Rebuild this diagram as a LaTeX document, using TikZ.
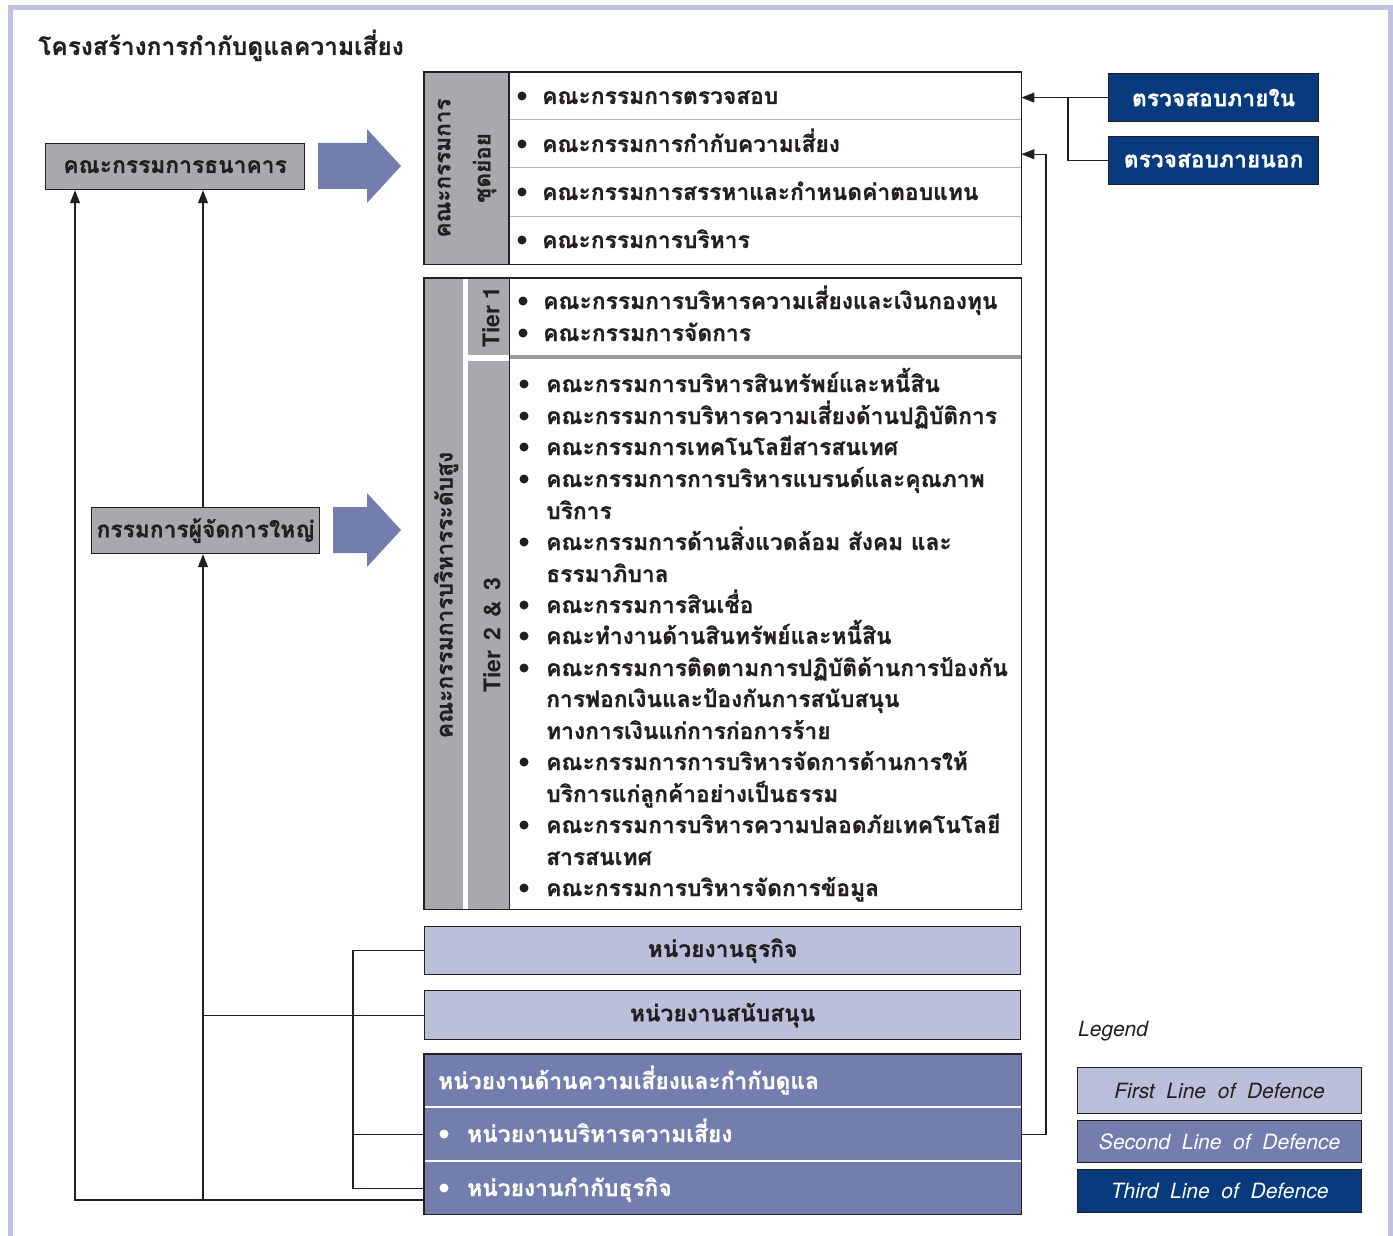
\documentclass[tikz,border=0pt]{standalone}
\usepackage{fontspec}
\usetikzlibrary{arrows.meta,calc}
\setmainfont[Script=Thai]{Loma}
\newfontfamily\thai[Script=Thai, BoldFeatures={FakeBold=0.7}]{Loma}
\newfontfamily\helv{TeX Gyre Heros}
\definecolor{gfill}{HTML}{A7A9AC}
\definecolor{lav}{HTML}{BBBFDC}
\definecolor{mblue}{HTML}{737EAF}
\definecolor{navy}{HTML}{083A7E}
\definecolor{framec}{HTML}{BEC2E0}
\definecolor{sepc}{HTML}{B5B5B5}
\definecolor{ink}{HTML}{231F20}
\newcommand\bitem[6][ink]{%
  \fill[#1] (#3,#5-8) circle (4.5pt);
  \node[txt, text=#1] (#2) at (#4,#5) {#6};}
\begin{document}
\begin{tikzpicture}[x=1pt,y=-1pt,
  font=\thai\bfseries\fontsize{22.8}{26}\selectfont,
  box/.style={draw=ink, line width=1.2pt, inner sep=0pt, anchor=north west, text=ink},
  plain/.style={draw=none, inner sep=0pt, anchor=north west},
  txt/.style={anchor=base west, inner sep=0pt, text=ink},
  arr/.style={-{Triangle[length=13pt,width=10pt]}, line width=1.1pt, draw=ink},
  ln/.style={line width=1.1pt, draw=ink},
  bigarr/.style={fill=mblue, draw=none},
  legtxt/.style={font=\helv\itshape\fontsize{21}{24}\selectfont}
]
\useasboundingbox (0,0) rectangle (1393,1236);
% frame
\draw[framec, line width=5pt] (10,1236) -- (10,8) -- (1390,8) -- (1390,1236);
% title
\node[txt, font=\thai\bfseries\fontsize{24.5}{28}\selectfont] (title) at (38,55) {โครงสร้างการกำกับดูแลความเสี่ยง};

% left boxes
\node[box, fill=gfill, minimum width=259pt, minimum height=46pt] (board) at (45,143) {คณะกรรมการธนาคาร};
\node[box, fill=gfill, minimum width=228pt, minimum height=46pt] (md) at (91,507) {กรรมการผู้จัดการใหญ่};

% big arrows
\fill[bigarr] (318,143) -- (367,143) -- (367,129) -- (401,166) -- (367,203) -- (367,189) -- (318,189) -- cycle;
\fill[bigarr] (333,507) -- (367,507) -- (367,493) -- (401,530) -- (367,567) -- (367,553) -- (333,553) -- cycle;

% sub-committee block
\node[plain, fill=gfill, minimum width=85pt, minimum height=192pt] (subcol) at (424,72) {};
\node[plain, fill=white, minimum width=512pt, minimum height=48pt] (s1) at (509,72) {};
\node[plain, fill=white, minimum width=512pt, minimum height=48pt] (s2) at (509,120) {};
\node[plain, fill=white, minimum width=512pt, minimum height=48pt] (s3) at (509,168) {};
\node[plain, fill=white, minimum width=512pt, minimum height=48pt] (s4) at (509,216) {};
\draw[sepc, line width=1pt] (s2.north west) -- (s2.north east);
\draw[sepc, line width=1pt] (s3.north west) -- (s3.north east);
\draw[sepc, line width=1pt] (s4.north west) -- (s4.north east);
\draw[ink, line width=1.2pt] (subcol.north west) rectangle (s4.south east);
\draw[ink, line width=1.2pt] (s1.north west) -- (s4.south west);
\node[rotate=90, align=center, text=ink, font=\thai\bfseries\fontsize{22.5}{40}\selectfont] (sublbl) at (467,168) {คณะกรรมการ\\ชุดย่อย};
\bitem{t1}{522}{542}{104}{คณะกรรมการตรวจสอบ}
\bitem{t2}{522}{542}{152}{คณะกรรมการกำกับความเสี่ยง}
\bitem{t3}{522}{542}{200}{คณะกรรมการสรรหาและกำหนดค่าตอบแทน}
\bitem{t4}{522}{542}{248}{คณะกรรมการบริหาร}

% executive block
\node[plain, fill=white, minimum width=597pt, minimum height=631pt] (exec) at (424,278) {};
\node[plain, fill=gfill, minimum width=39pt, minimum height=631pt] (execcol) at (424,278) {};
\node[plain, fill=gfill, minimum width=41pt, minimum height=77pt] (tier1) at (468,278) {};
\node[plain, fill=gfill, minimum width=41pt, minimum height=548pt] (tier23) at (468,361) {};
\draw[sepc!85!black, line width=4pt] (509,357) -- (1021,357);
\draw[ink, line width=1.2pt] (exec.north west) rectangle (exec.south east);
\draw[ink, line width=1.2pt] (tier1.north east) -- (tier23.south east);
\node[rotate=90, text=ink] (execlbl) at (446,595) {คณะกรรมการบริหารระดับสูง};
\node[rotate=90, text=ink, font=\helv\bfseries\fontsize{23}{26}\selectfont] (tier1lbl) at (491,317) {Tier 1};
\node[rotate=90, text=ink, font=\helv\bfseries\fontsize{23}{26}\selectfont] (tier23lbl) at (492,635) {Tier\ \,2\ \,\&\ \,3};
\bitem{e1}{523}{543}{309}{คณะกรรมการบริหารความเสี่ยงและเงินกองทุน}
\bitem{e2}{523}{543}{341}{คณะกรรมการจัดการ}
\bitem{f1}{524}{546}{392}{คณะกรรมการบริหารสินทรัพย์และหนี้สิน}
\bitem{f2}{524}{546}{424}{คณะกรรมการบริหารความเสี่ยงด้านปฏิบัติการ}
\bitem{f3}{524}{546}{455}{คณะกรรมการเทคโนโลยีสารสนเทศ}
\bitem{f4}{524}{546}{487}{คณะกรรมการการบริหารแบรนด์และคุณภาพ}
\node[txt] (f4b) at (546,519) {บริการ};
\bitem{f5}{524}{546}{550}{คณะกรรมการด้านสิ่งแวดล้อม สังคม และ}
\node[txt] (f5b) at (546,582) {ธรรมาภิบาล};
\bitem{f6}{524}{546}{613}{คณะกรรมการสินเชื่อ}
\bitem{f7}{524}{546}{644}{คณะทำงานด้านสินทรัพย์และหนี้สิน}
\bitem{f8}{524}{546}{676}{คณะกรรมการติดตามการปฏิบัติด้านการป้องกัน}
\node[txt] (f8b) at (546,707) {การฟอกเงินและป้องกันการสนับสนุน};
\node[txt] (f8c) at (546,739) {ทางการเงินแก่การก่อการร้าย};
\bitem{f9}{524}{546}{770}{คณะกรรมการการบริหารจัดการด้านการให้}
\node[txt] (f9b) at (546,802) {บริการแก่ลูกค้าอย่างเป็นธรรม};
\bitem{f10}{524}{546}{833}{คณะกรรมการบริหารความปลอดภัยเทคโนโลยี}
\node[txt] (f10b) at (546,865) {สารสนเทศ};
\bitem{f11}{524}{546}{896}{คณะกรรมการบริหารจัดการข้อมูล}

% business / support
\node[box, fill=lav, minimum width=596pt, minimum height=48pt] (bu) at (424,926) {หน่วยงานธุรกิจ};
\node[box, fill=lav, minimum width=596pt, minimum height=49pt] (su) at (424,990) {หน่วยงานสนับสนุน};

% risk & compliance block
\node[plain, fill=mblue, minimum width=597pt, minimum height=52pt] (rchead) at (424,1054) {};
\node[plain, fill=mblue, minimum width=597pt, minimum height=52pt] (rcrisk) at (424,1108) {};
\node[plain, fill=mblue, minimum width=597pt, minimum height=52pt] (rccomp) at (424,1162) {};
\draw[ink, line width=1.2pt] (rchead.north west) rectangle (rccomp.south east);
\node[txt, text=white] (rcheadt) at (438,1089) {หน่วยงานด้านความเสี่ยงและกำกับดูแล};
\bitem[white]{rc1}{444}{467}{1142}{หน่วยงานบริหารความเสี่ยง}
\bitem[white]{rc2}{444}{467}{1196}{หน่วยงานกำกับธุรกิจ}

% audit boxes
\node[box, fill=navy, text=white, minimum width=210pt, minimum height=48pt] (ia) at (1108,73) {ตรวจสอบภายใน};
\node[box, fill=navy, text=white, minimum width=210pt, minimum height=48pt] (ea) at (1108,136) {ตรวจสอบภายนอก};

% legend
\node[anchor=west, inner sep=0pt, text=ink, font=\helv\itshape\fontsize{21}{24}\selectfont] (legend) at (1078,1031) {Legend};
\node[box, fill=lav, minimum width=284pt, minimum height=46pt, legtxt] (lg1) at (1077,1067) {First\ \ Line\ \ of\ \ Defence};
\node[box, fill=mblue, text=white, minimum width=284pt, minimum height=42pt, legtxt] (lg2) at (1077,1120) {Second\ \ Line\ \ of\ \ Defence};
\node[box, fill=navy, text=white, minimum width=284pt, minimum height=43pt, legtxt] (lg3) at (1077,1169) {Third\ \ Line\ \ of\ \ Defence};

% connectors
\coordinate (lx) at (75,0);
\coordinate (mx) at (203,0);
\coordinate (bx) at (353,0);
\coordinate (bl) at (0,1200);
\coordinate (rx) at (1046,0);
\coordinate (ax) at (1068,0);
\coordinate (s2in) at ($(s2.east)+(0,10)$);
\draw[ln] (bu.west) -| (bx |- rccomp.west) -- (rccomp.west);
\draw[ln] (rcrisk.west) -- (bx |- rcrisk.west);
\draw[arr] (su.west) -| (mx |- md.south);
\draw[ln] (mx |- su.west) -- (mx |- bl);
\draw[arr] (rccomp.west |- bl) -| (lx |- board.south);
\draw[arr] (mx |- md.north) -- (mx |- board.south);
\draw[arr] (rcrisk.east) -- (rx |- rcrisk.east) -- (rx |- s2in) -- (s2in);
\draw[arr] (ia.west) -- (s1.east |- ia.west);
\draw[ln] (ea.west) -| (ax |- ia.west);
\end{tikzpicture}
\end{document}
